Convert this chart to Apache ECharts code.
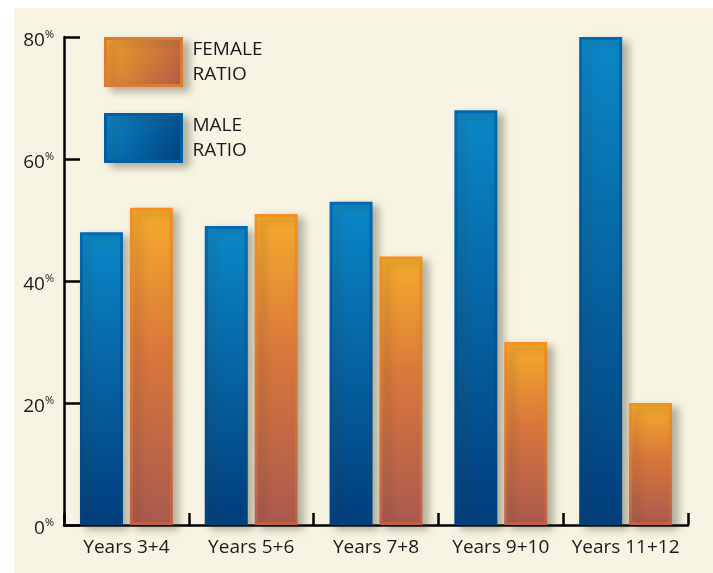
<!DOCTYPE html>
<html>
<head>
<meta charset="utf-8">
<script src="https://cdn.jsdelivr.net/npm/echarts@6/dist/echarts.min.js"></script>
<style>
html,body{margin:0;padding:0;background:#ffffff;}
#chart{width:713px;height:573px;}
</style>
</head>
<body>
<div id="chart"></div>
<script>
const categories = ['Years 3+4', 'Years 5+6', 'Years 7+8', 'Years 9+10', 'Years 11+12'];
const maleRatio = [48, 49, 53, 68, 80];
const femaleRatio = [52, 51, 44, 30, 20];
const yTicks = [0, 20, 40, 60, 80];

const FONT = 'Open Sans';
const G = echarts.graphic.LinearGradient;

const maleFill = new G(0, 0, 0, 1, [{offset: 0, color: '#0a88c8'}, {offset: 1, color: '#013d7b'}]);
const maleBorder = new G(0, 0, 0, 1, [{offset: 0, color: '#0069b3'}, {offset: 1, color: '#00427f'}]);
const femaleFill = new G(0, 0, 0, 1, [{offset: 0, color: '#f6ac2b'}, {offset: 0.45, color: '#d9773c'}, {offset: 1, color: '#a9594e'}]);
const femaleBorder = new G(0, 0, 0, 1, [{offset: 0, color: '#f3901f'}, {offset: 1, color: '#c0604a'}]);

const shadow = {shadowColor: 'rgba(60,55,30,0.35)', shadowBlur: 8, shadowOffsetX: 6, shadowOffsetY: 4};

const chart = echarts.init(document.getElementById('chart'), null, {renderer: 'canvas'});
chart.setOption({
  backgroundColor: 'transparent',
  animation: false,
  graphic: [{
    type: 'rect', left: 14, top: 8, z: -10, silent: true,
    shape: {width: 699, height: 565},
    style: {fill: '#f7f4e3'}
  }],
  grid: {left: 64, right: 25, top: 37, bottom: 48},
  legend: {
    orient: 'vertical', left: 104, top: 37, padding: 0,
    itemWidth: 76, itemHeight: 47, itemGap: 26,
    icon: 'rect',
    data: [
      {name: 'FEMALE RATIO', itemStyle: {
        color: new G(0, 0, 1, 1, [{offset: 0, color: '#f5a228'}, {offset: 1, color: '#b0584a'}]),
        borderColor: '#e07a32', borderWidth: 3, ...shadow}},
      {name: 'MALE RATIO', itemStyle: {
        color: new G(0, 0, 1, 1, [{offset: 0, color: '#0a86c6'}, {offset: 1, color: '#003f7d'}]),
        borderColor: '#005ea5', borderWidth: 3, ...shadow}}
    ],
    formatter: n => n.replace(' ', '\n'),
    textStyle: {fontFamily: FONT, fontSize: 19, color: '#1a1a1a', lineHeight: 25, padding: [0, 0, 0, 6]}
  },
  xAxis: {
    type: 'category', data: categories,
    axisLine: {lineStyle: {color: '#000', width: 2.5}},
    axisTick: {show: true, inside: true, length: 12, lineStyle: {color: '#000', width: 2.5}},
    axisLabel: {interval: 0, fontFamily: FONT, fontSize: 19, color: '#1a1a1a', margin: 13}
  },
  yAxis: {
    type: 'value', min: 0, max: 80, interval: 20,
    splitLine: {show: false},
    axisLine: {show: true, lineStyle: {color: '#000', width: 2.5}},
    axisTick: {show: true, inside: true, length: 16, lineStyle: {color: '#000', width: 2.5}},
    axisLabel: {
      margin: 10,
      fontFamily: FONT, fontSize: 19, color: '#1a1a1a',
      formatter: v => yTicks.includes(v) ? '{n|' + v + '}{p|%}' : '',
      rich: {
        n: {fontFamily: FONT, fontSize: 19, color: '#1a1a1a', padding: [8, 0, 0, 0]},
        p: {fontFamily: FONT, fontSize: 11, color: '#1a1a1a', padding: [0, 0, 4, 0]}
      }
    }
  },
  series: [
    {
      name: 'MALE RATIO', type: 'bar', data: maleRatio, barWidth: 43, barGap: '16%',
      itemStyle: {color: maleFill, borderColor: maleBorder, borderWidth: 3, ...shadow}
    },
    {
      name: 'FEMALE RATIO', type: 'bar', data: femaleRatio, barWidth: 43,
      itemStyle: {color: femaleFill, borderColor: femaleBorder, borderWidth: 3, ...shadow}
    }
  ]
});
</script>
</body>
</html>
